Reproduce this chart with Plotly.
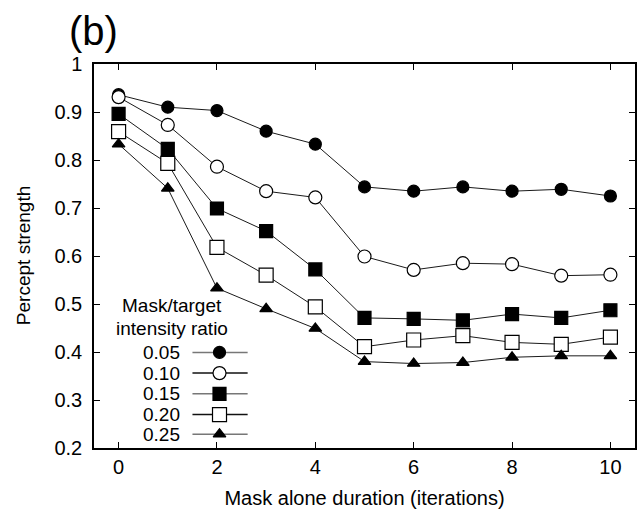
import plotly.graph_objects as go

# Mask alone duration (iterations)
durations = [0, 1, 2, 3, 4, 5, 6, 7, 8, 9, 10]

# Mask/target intensity ratios
ratio_labels = ["0.05", "0.10", "0.15", "0.20", "0.25"]

# Percept strength per ratio
strength_005 = [0.936, 0.910, 0.903, 0.860, 0.833, 0.744, 0.735, 0.744, 0.735, 0.739, 0.725]
strength_010 = [0.931, 0.873, 0.786, 0.735, 0.722, 0.599, 0.571, 0.585, 0.583, 0.559, 0.561]
strength_015 = [0.896, 0.823, 0.699, 0.652, 0.572, 0.471, 0.469, 0.466, 0.479, 0.471, 0.487]
strength_020 = [0.859, 0.793, 0.618, 0.560, 0.494, 0.411, 0.425, 0.434, 0.420, 0.416, 0.431]
strength_025 = [0.833, 0.741, 0.533, 0.490, 0.449, 0.380, 0.376, 0.378, 0.389, 0.392, 0.392]

x_ticks = [0, 2, 4, 6, 8, 10]
y_ticks = [0.2, 0.3, 0.4, 0.5, 0.6, 0.7, 0.8, 0.9, 1]

series = [strength_005, strength_010, strength_015, strength_020, strength_025]
symbols = ["circle", "circle-open", "square", "square-open", "triangle-up"]
sizes = [12, 13, 13, 14, 11]
key_line_colors = ["#777777", "#111111", "#777777", "#111111", "#777777"]

FONT = "Liberation Sans, Arial, sans-serif"
LINE = "#1a1a1a"

fig = go.Figure()

for vals, sym, sz in zip(series, symbols, sizes):
    open_marker = sym.endswith("open")
    fig.add_trace(go.Scatter(
        x=durations, y=vals, mode="lines+markers",
        line=dict(color=LINE, width=1),
        marker=dict(symbol=sym.replace("-open", ""), size=sz,
                    color="white" if open_marker else "black",
                    line=dict(color="black", width=1.2)),
        showlegend=False, hoverinfo="skip",
    ))

# Key samples drawn on a unit overlay axis inside the plot area
key_rows = [0.249, 0.195, 0.141, 0.087, 0.036]
for lab, sym, sz, ry, lc in zip(ratio_labels, symbols, sizes, key_rows, key_line_colors):
    open_marker = sym.endswith("open")
    fig.add_trace(go.Scatter(
        x=[0.182, 0.284], y=[ry, ry], mode="lines",
        line=dict(color=lc, width=1.5),
        xaxis="x2", yaxis="y2", showlegend=False, hoverinfo="skip",
    ))
    fig.add_trace(go.Scatter(
        x=[0.232], y=[ry], mode="markers",
        marker=dict(symbol=sym.replace("-open", ""), size=sz,
                    color="white" if open_marker else "black",
                    line=dict(color="black", width=1.2)),
        xaxis="x2", yaxis="y2", showlegend=False, hoverinfo="skip",
    ))
    fig.add_annotation(x=0.16, y=ry, xref="x2", yref="y2", text=lab,
                       showarrow=False, xanchor="right", yanchor="middle",
                       borderpad=0,
                       font=dict(family=FONT, size=19, color="black"))

fig.add_annotation(x=0.144, y=0.371, xref="x2", yref="y2", text="Mask/target",
                   showarrow=False, xanchor="center", yanchor="middle",
                   borderpad=0,
                   font=dict(family=FONT, size=19, color="black"))
fig.add_annotation(x=0.144, y=0.312, xref="x2", yref="y2", text="intensity ratio",
                   showarrow=False, xanchor="center", yanchor="middle",
                   borderpad=0,
                   font=dict(family=FONT, size=19, color="black"))

# Panel label
fig.add_annotation(x=-0.05, y=1.085, xref="paper", yref="paper", text="(b)",
                   showarrow=False, xanchor="left", yanchor="middle",
                   font=dict(family=FONT, size=40, color="black"))

# Vertical axis title
fig.add_annotation(x=-0.131, y=0.5, xref="paper", yref="paper",
                   text="Percept strength", textangle=-90,
                   showarrow=False, xanchor="center", yanchor="middle",
                   font=dict(family=FONT, size=19, color="black"))

axis_common = dict(
    showgrid=False, zeroline=False, showline=True, linecolor="black",
    linewidth=1.5, mirror="ticks", ticks="inside", ticklen=6,
    tickwidth=1, tickcolor="black",
    tickfont=dict(family=FONT, size=20, color="black"),
)

fig.update_layout(
    width=639, height=529,
    margin=dict(l=94, r=2, t=64, b=81),
    plot_bgcolor="white", paper_bgcolor="white",
    xaxis=dict(range=[-0.5, 10.5], tickvals=x_ticks,
               ticktext=[str(v) for v in x_ticks],
               title=dict(text="Mask alone duration (iterations)",
                          font=dict(family=FONT, size=20, color="black"),
                          standoff=14),
               **axis_common),
    yaxis=dict(range=[0.2, 1.0], tickvals=y_ticks,
               ticktext=["0.2", "0.3", "0.4", "0.5", "0.6", "0.7", "0.8", "0.9", "1"],
               ticklabelstandoff=6,
               **axis_common),
    xaxis2=dict(range=[0, 1], overlaying="x", visible=False, fixedrange=True),
    yaxis2=dict(range=[0, 1], overlaying="y", visible=False, fixedrange=True),
)

fig.write_html("out.html")
